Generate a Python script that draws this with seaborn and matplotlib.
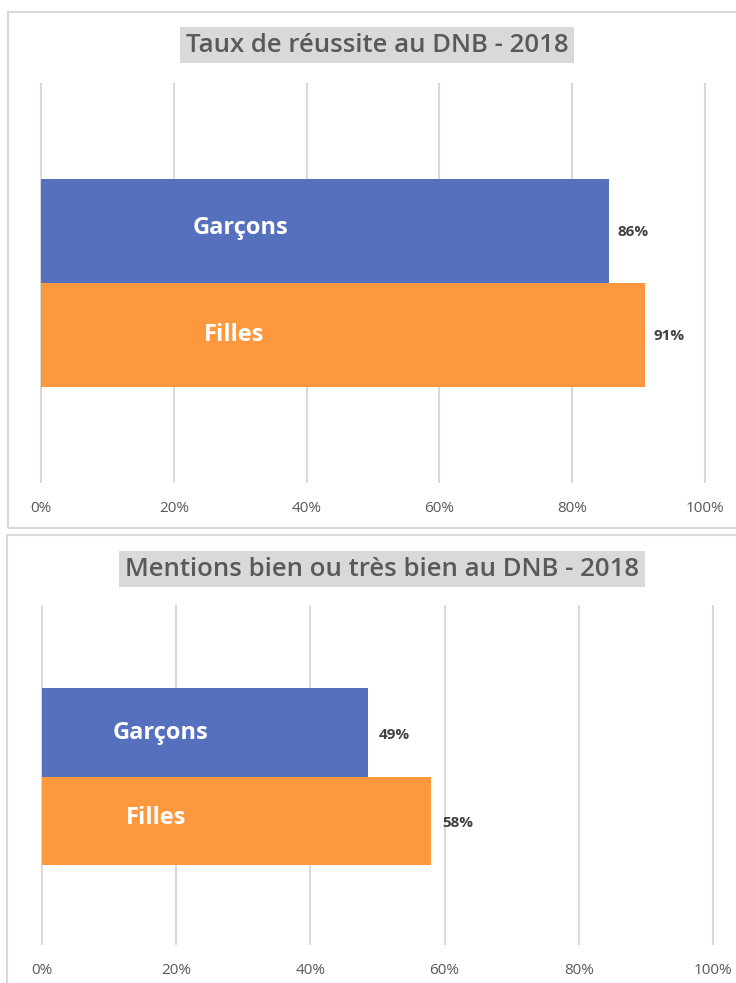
import matplotlib
matplotlib.use("Agg")
import matplotlib.pyplot as plt
import seaborn as sns
import pandas as pd
from matplotlib.patches import Rectangle
from matplotlib.ticker import PercentFormatter

# ---- data ----
categories = ["Garçons", "Filles"]
reussite = [0.856, 0.91]
reussite_labels = ["86%", "91%"]
mentions = [0.486, 0.58]
mentions_labels = ["49%", "58%"]
titles = ["Taux de réussite au DNB - 2018", "Mentions bien ou très bien au DNB - 2018"]
colors = ["#5571BE", "#FD983F"]

sns.set_theme(style="white")
plt.rcParams["font.family"] = ["Open Sans", "DejaVu Sans"]

W, H = 736, 983
fig = plt.figure(figsize=(W / 100, H / 100), dpi=100)

def px_axes(x0, x1, y0, y1):
    return fig.add_axes([x0 / W, 1 - y1 / H, (x1 - x0) / W, (y1 - y0) / H])

grid_c = "#D9D9D9"
txt_c = "#595959"

# panel borders
for (x0, y0, x1, y1) in [(8, 12, 740, 528), (7, 535, 740, 990)]:
    fig.patches.append(Rectangle((x0 / W, 1 - y1 / H), (x1 - x0) / W, (y1 - y0) / H,
                                 transform=fig.transFigure, fill=False,
                                 edgecolor=grid_c, linewidth=1.5))

def draw(ax, values, labels, name_pos, name_dy, ylim, off, val_dy):
    df = pd.DataFrame({"cat": categories, "val": values})
    sns.barplot(data=df, x="val", y="cat", hue="cat", palette=colors, width=1.0,
                orient="h", legend=False, ax=ax, saturation=1, linewidth=0, zorder=3)
    ax.set_xlim(-0.01, 1.01)
    ax.set_ylim(*ylim)
    ax.set_xticks([0, 0.2, 0.4, 0.6, 0.8, 1.0])
    ax.xaxis.set_major_formatter(PercentFormatter(1.0, decimals=0))
    ax.grid(axis="x", color=grid_c, linewidth=1.5)
    ax.grid(axis="y", visible=False)
    for s in ax.spines.values():
        s.set_visible(False)
    ax.set_yticks([])
    ax.set_xlabel("")
    ax.set_ylabel("")
    ax.tick_params(axis="x", length=0, pad=13, labelsize=11, labelcolor=txt_c)
    for i, (v, lab) in enumerate(zip(values, labels)):
        ax.annotate(lab, xy=(v, i), xytext=(off, val_dy), textcoords="offset points",
                    ha="left", va="center", fontsize=11, fontweight="bold", color="#404040", zorder=5)
        ax.text(name_pos[i], i + name_dy[i], categories[i], ha="center", va="center",
                fontsize=17, fontweight="bold", color="white", zorder=5)

ax1 = px_axes(34.4, 711.6, 83, 483)
draw(ax1, reussite, reussite_labels, [0.30, 0.29], [-0.03, 0.0], (2.42, -1.42), 6, -0.5)
ax2 = px_axes(35.3, 719.7, 605, 945)
draw(ax2, mentions, mentions_labels, [0.176, 0.17], [0.01, -0.04], (2.40, -1.44), 8, -1.5)

fig.text(377 / W, 1 - 45 / H, titles[0], ha="center", va="center", fontsize=18.5,
         fontweight="semibold", color=txt_c,
         bbox=dict(facecolor="#D9D9D9", edgecolor="none", pad=4))
fig.text(382 / W, 1 - 569 / H, titles[1], ha="center", va="center", fontsize=18.5,
         fontweight="semibold", color=txt_c,
         bbox=dict(facecolor="#D9D9D9", edgecolor="none", pad=4))

fig.savefig("out.png", dpi=100)
